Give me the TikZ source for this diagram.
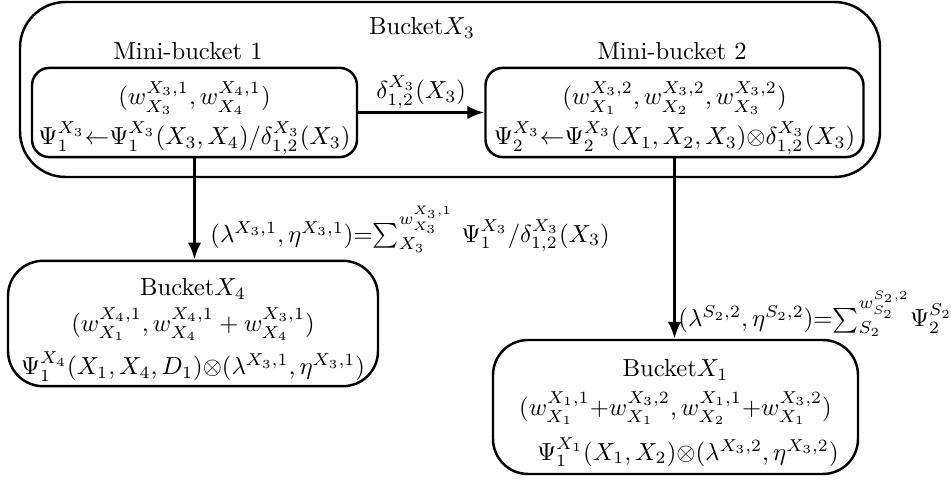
\documentclass[tikz,border=0pt]{standalone}
\usepackage{amsmath}
\usetikzlibrary{arrows.meta,positioning}
\newcommand\pxu{0.01425cm}
\tikzset{
  bucketbox/.style={draw, line width=1pt, rounded corners=4mm, align=center, inner sep=2pt},
  minibox/.style={draw, line width=1pt, rounded corners=2.5mm, align=center, inner sep=1pt},
  msgarrow/.style={-{Latex[length=2.4mm,width=1.9mm]}, line width=1.2pt},
  msglabel/.style={inner sep=1pt}
}

\begin{document}
\begin{tikzpicture}[x=\pxu, y=-\pxu]
\useasboundingbox (0,0) rectangle (951,481);
% bucket X3 and its two mini-buckets
\node[bucketbox, minimum width=860*\pxu, minimum height=175*\pxu, rounded corners=6.5mm] (bucket3) at (450,89.5) {};
\node (bucket3title) at (422,28) {Bucket$X_3$};
\node (mini1title) at (188,51) {Mini-bucket 1};
\node (mini2title) at (672,51) {Mini-bucket 2};
\node[minibox, minimum width=325*\pxu, minimum height=89*\pxu] (mini1) at (194.5,112.5)
  {\rule{0pt}{14pt}$(w^{X_3,1}_{X_3}, w^{X_4,1}_{X_4})$\\[2pt]
   $\Psi_1^{X_3}{\leftarrow}\Psi_1^{X_3}(X_3,X_4)/\delta_{1,2}^{X_3}(X_3)$};
\node[minibox, minimum width=378*\pxu, minimum height=89*\pxu] (mini2) at (674.5,112.5)
  {\rule{0pt}{14pt}$(w^{X_3,2}_{X_1}, w^{X_3,2}_{X_2}, w^{X_3,2}_{X_3})$\\[2pt]
   $\Psi_2^{X_3}{\leftarrow}\Psi_2^{X_3}(X_1,X_2,X_3){\otimes}\delta_{1,2}^{X_3}(X_3)$};

% receiving buckets
\node[bucketbox, minimum width=370*\pxu, minimum height=123*\pxu, rounded corners=5mm] (bucket4) at (193,323.5)
  {\rule{0pt}{12pt}Bucket$X_4$\\[2.5pt]
   $(w^{X_4,1}_{X_1}, w^{X_4,1}_{X_4} + w^{X_3,1}_{X_4})$\\[3.5pt]
   $\Psi_1^{X_4}(X_1,X_4,D_1){\otimes}(\lambda^{X_3,1},\eta^{X_3,1})$};
\node[bucketbox, minimum width=365*\pxu, minimum height=134*\pxu, rounded corners=5mm] (bucket1) at (675.5,407)
  {\rule{0pt}{12pt}Bucket$X_1$\\[3.5pt]
   $(w^{X_1,1}_{X_1}{+}w^{X_3,2}_{X_1}, w^{X_1,1}_{X_2}{+}w^{X_3,2}_{X_1})$\\[4pt]
   \quad$\Psi_1^{X_1}(X_1,X_2){\otimes}(\lambda^{X_3,2},\eta^{X_3,2})$};

% messages
\draw[msgarrow] (mini1) -- (mini2) node[midway, above, msglabel] {$\delta_{1,2}^{X_3}(X_3)$};
\draw[msgarrow] (mini1.south) -- (mini1.south |- bucket4.north)
  node[pos=0.7, right, msglabel, xshift=12*\pxu] {$(\lambda^{X_3,1},\eta^{X_3,1}){=}\!\sum_{X_3}^{w^{X_3,1}_{X_3}}\,\Psi_1^{X_3}/\delta_{1,2}^{X_3}(X_3)$};
\draw[msgarrow] (mini2.south) -- (mini2.south |- bucket1.north)
  node[pos=0.86, right, msglabel] {$(\lambda^{S_2,2},\eta^{S_2,2}){=}\!\sum_{S_2}^{w^{S_2,2}_{S_2}}\!\Psi_2^{S_2}$};
\end{tikzpicture}
\end{document}
